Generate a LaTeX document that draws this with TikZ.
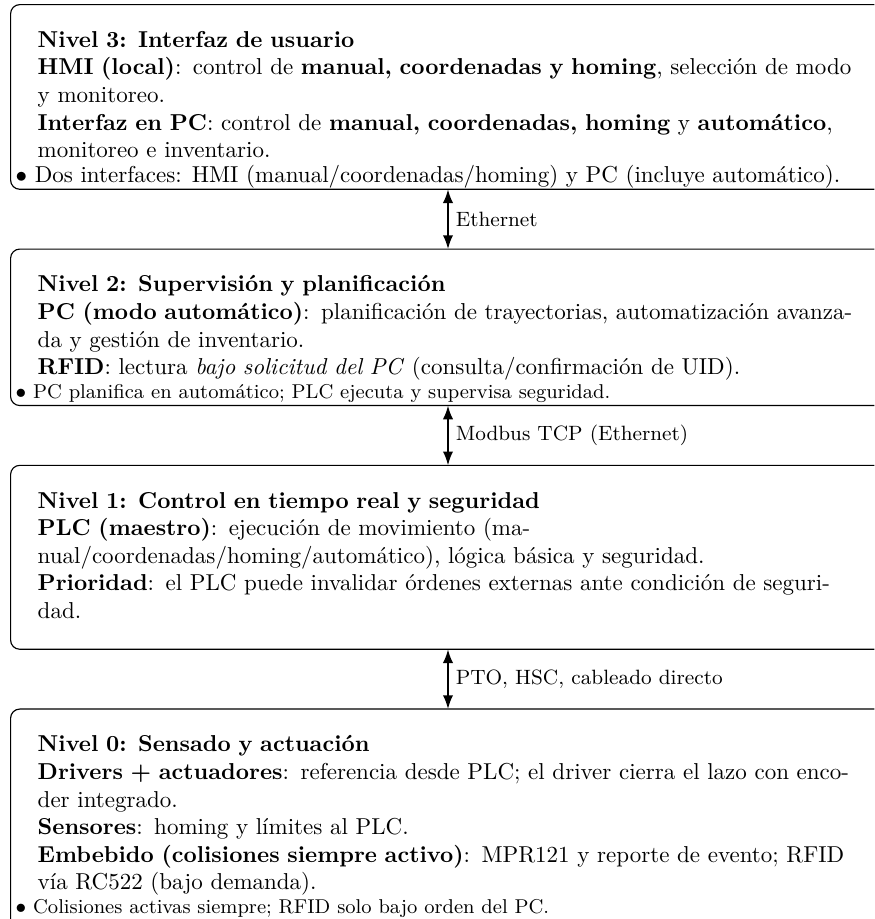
\documentclass[tikz,border=0pt]{standalone}
\usepackage{fontspec}
\usetikzlibrary{arrows.meta,fit}
\begin{document}
\begin{tikzpicture}[
  txt/.style={anchor=north west, text width=363pt, align=left, inner sep=0pt},
  fitbox/.style={inner sep=0pt, draw=none},
  frame/.style={line width=0.5pt, rounded corners=4pt},
  note/.style={anchor=base west, inner sep=0pt},
  link/.style={{Latex[length=6pt,width=4.5pt]}-{Latex[length=6pt,width=4.5pt]}, thick},
  lab/.style={right, font=\small, inner sep=3pt}
]
\useasboundingbox (0,0) rectangle (380.4pt,-399.6pt);
\coordinate (lx) at (4.8pt,0);
\coordinate (rx) at (380pt,0);
\coordinate (tx) at (16.2pt,0);
\coordinate (ax) at (194.8pt,0);
\coordinate (bot) at (0,-399.4pt);

% ---- Nivel 3
\node[txt] (T3) at (16.2pt,-13.4pt) {\textbf{Nivel 3: Interfaz de usuario}\\
\textbf{HMI (local)}: control de \textbf{manual, coordenadas y homing}, selección de modo\\
y monitoreo.\\
\textbf{Interfaz en PC}: control de \textbf{manual, coordenadas, homing} y \textbf{automático},\\
monitoreo e inventario.\rule[-2.5pt]{0pt}{0pt}};
\coordinate (a3) at ([yshift=11.2pt]T3.north);
\coordinate (b3) at ([yshift=-10.8pt]T3.south);
\node[fitbox, fit={(a3 -| lx) (b3 -| rx)}] (L3) {};
\draw[frame] (L3.north east) -- (L3.north west) -- (L3.south west) -- (L3.south east);
\node[note] (N3) at ([shift={(2pt,3pt)}]L3.south west) {$\bullet$ Dos interfaces: HMI (manual/coordenadas/homing) y PC (incluye automático).};

% ---- Nivel 2
\coordinate (c2) at ([yshift=-37.4pt]L3.south);
\node[txt] (T2) at (c2 -| tx) {\textbf{Nivel 2: Supervisión y planificación}\\
\textbf{PC (modo automático)}: planificación de trayectorias, automatización avanza-\\
da y gestión de inventario.\\
\textbf{RFID}: lectura \emph{bajo solicitud del PC} (consulta/confirmación de UID).\rule[-2.5pt]{0pt}{0pt}};
\coordinate (a2) at ([yshift=11.2pt]T2.north);
\coordinate (b2) at ([yshift=-10.5pt]T2.south);
\node[fitbox, fit={(a2 -| lx) (b2 -| rx)}] (L2) {};
\draw[frame] (L2.north east) -- (L2.north west) -- (L2.south west) -- (L2.south east);
\node[note, font=\fontsize{8.7}{10}\selectfont] (N2) at ([shift={(2pt,3.2pt)}]L2.south west) {$\bullet$ PC planifica en automático; PLC ejecuta y supervisa seguridad.};

% ---- Nivel 1
\coordinate (c1) at ([yshift=-37.4pt]L2.south);
\node[txt] (T1) at (c1 -| tx) {\textbf{Nivel 1: Control en tiempo real y seguridad}\\
\textbf{PLC (maestro)}: ejecución de movimiento (ma-\\
nual/coordenadas/homing/automático), lógica básica y seguridad.\\
\textbf{Prioridad}: el PLC puede invalidar órdenes externas ante condición de seguri-\\
dad.\rule[-2.5pt]{0pt}{0pt}};
\coordinate (a1) at ([yshift=11.2pt]T1.north);
\coordinate (b1) at ([yshift=-10.5pt]T1.south);
\node[fitbox, fit={(a1 -| lx) (b1 -| rx)}] (L1) {};
\draw[frame] (L1.north east) -- (L1.north west) -- (L1.south west) -- (L1.south east);

% ---- Nivel 0
\coordinate (c0) at ([yshift=-37.4pt]L1.south);
\node[txt] (T0) at (c0 -| tx) {\textbf{Nivel 0: Sensado y actuación}\\
\textbf{Drivers + actuadores}: referencia desde PLC; el driver cierra el lazo con enco-\\
der integrado.\\
\textbf{Sensores}: homing y límites al PLC.\\
\textbf{Embebido (colisiones siempre activo)}: MPR121 y reporte de evento; RFID\\
vía RC522 (bajo demanda).};
\coordinate (a0) at ([yshift=11.2pt]T0.north);
\node[fitbox, fit={(a0 -| lx) (bot -| rx)}] (L0) {};
\draw[frame] (L0.north east) -- (L0.north west) -- (L0.south west);
\node[note, font=\fontsize{8.7}{10}\selectfont] (N0) at ([shift={(2pt,2.3pt)}]L0.south west) {$\bullet$ Colisiones activas siempre; RFID solo bajo orden del PC.};

% ---- connectors
\draw[link] (L3.south -| ax) -- node[lab]{Ethernet} (L2.north -| ax);
\draw[link] (L2.south -| ax) -- node[lab]{Modbus TCP (Ethernet)} (L1.north -| ax);
\draw[link] (L1.south -| ax) -- node[lab]{PTO, HSC, cableado directo} (L0.north -| ax);
\end{tikzpicture}
\end{document}
